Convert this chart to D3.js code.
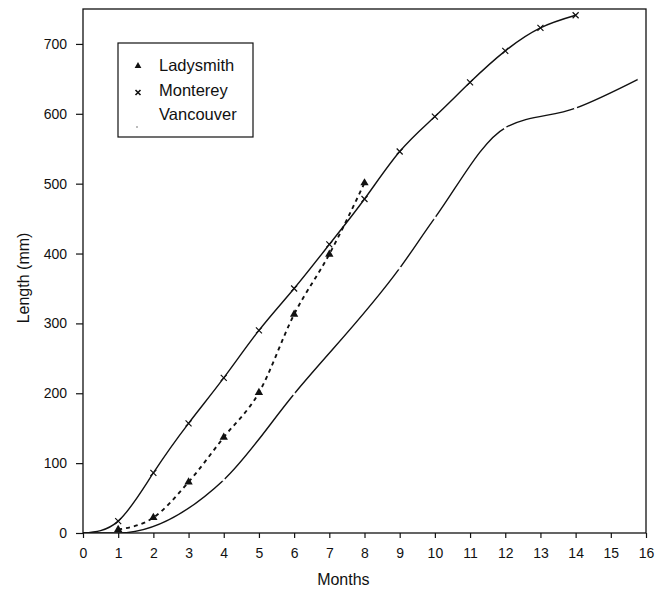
<!DOCTYPE html>
<html>
<head>
<meta charset="utf-8">
<script src="https://cdn.jsdelivr.net/npm/d3@7"></script>
<style>
  body { margin: 0; background: #fff; }
  svg { font-family: 'Liberation Sans', Arial, sans-serif; }
</style>
</head>
<body>
<svg></svg>
<script>
var ladysmithMonths = [1, 2, 3, 4, 5, 6, 7, 8];
var ladysmithLength = [5, 22, 73, 137, 201, 313, 399, 501];

var montereyMonths = [0, 1, 2, 3, 4, 5, 6, 7, 8, 9, 10, 11, 12, 13, 14];
var montereyLength = [0, 17, 86, 157, 222, 290, 350, 413, 478, 546, 596, 645, 690, 723, 741];

var vancouverMonths = [0, 1, 4, 6, 9, 10, 12, 14, 15.8];
var vancouverLength = [0, 0, 76, 199, 379, 451, 580, 608, 650];

var xTicks = [0, 1, 2, 3, 4, 5, 6, 7, 8, 9, 10, 11, 12, 13, 14, 15, 16];
var yTicks = [0, 100, 200, 300, 400, 500, 600, 700];
var seriesNames = ['Ladysmith', 'Monterey', 'Vancouver'];

var svgWidth = 665;
var svgHeight = 589;

var svgPadding = {
  top: 9,
  right: 19,
  bottom: 56,
  left: 83
};

var plotAreaWidth = svgWidth - svgPadding.left - svgPadding.right;
var plotAreaHeight = svgHeight - svgPadding.top - svgPadding.bottom;

var svg = d3.select('svg').attr('width', svgWidth).attr('height', svgHeight);

var xScale = d3.scaleLinear().domain([0, 16]).range([0, plotAreaWidth]);
var yScale = d3.scaleLinear().domain([0, 750]).range([plotAreaHeight, 0]);

var plot = svg.append('g')
  .attr('transform', 'translate(' + svgPadding.left + ',' + svgPadding.top + ')');

plot.append('clipPath').attr('id', 'plotClip')
  .append('rect')
  .attr('width', plotAreaWidth)
  .attr('height', plotAreaHeight);

function toPoints(months, values) {
  return months.map(function(m, i) { return { month: m, length: values[i] }; });
}

var ladysmith = toPoints(ladysmithMonths, ladysmithLength);
var monterey = toPoints(montereyMonths, montereyLength);
var vancouver = toPoints(vancouverMonths, vancouverLength);

function lineFor(curve) {
  return d3.line()
    .x(function(d) { return xScale(d.month); })
    .y(function(d) { return yScale(d.length); })
    .curve(curve);
}

var lines = plot.append('g').attr('clip-path', 'url(#plotClip)');

lines.append('path')
  .datum(monterey)
  .attr('d', lineFor(d3.curveNatural))
  .attr('fill', 'none')
  .attr('stroke', '#111')
  .attr('stroke-width', 1.4);

lines.append('path')
  .datum(vancouver)
  .attr('d', lineFor(d3.curveMonotoneX))
  .attr('fill', 'none')
  .attr('stroke', '#111')
  .attr('stroke-width', 1.4);

lines.append('path')
  .datum(ladysmith)
  .attr('d', lineFor(d3.curveMonotoneX))
  .attr('fill', 'none')
  .attr('stroke', '#111')
  .attr('stroke-width', 1.9)
  .attr('stroke-dasharray', '4,4');

// vancouver points only show as small breaks in the line
plot.selectAll('.vancouverPoint')
  .data(vancouver.filter(function(d) { return d.length > 0; }))
  .enter()
  .append('circle')
  .classed('vancouverPoint', true)
  .attr('cx', function(d) { return xScale(d.month); })
  .attr('cy', function(d) { return yScale(d.length); })
  .attr('r', 1.6)
  .attr('fill', '#fff');

var crossPath = 'M-3,-3L3,3M-3,3L3,-3';

plot.selectAll('.montereyPoint')
  .data(monterey.filter(function(d) { return d.month > 0; }))
  .enter()
  .append('path')
  .classed('montereyPoint', true)
  .attr('d', crossPath)
  .attr('transform', function(d) { return 'translate(' + xScale(d.month) + ',' + yScale(d.length) + ')'; })
  .attr('stroke', '#111')
  .attr('stroke-width', 1.2);

var triangle = d3.symbol().type(d3.symbolTriangle).size(30);

plot.selectAll('.ladysmithPoint')
  .data(ladysmith)
  .enter()
  .append('path')
  .classed('ladysmithPoint', true)
  .attr('d', triangle)
  .attr('transform', function(d) { return 'translate(' + xScale(d.month) + ',' + yScale(d.length) + ')'; })
  .attr('fill', '#111');

// frame
plot.append('rect')
  .attr('width', plotAreaWidth)
  .attr('height', plotAreaHeight)
  .attr('fill', 'none')
  .attr('stroke', '#111')
  .attr('stroke-width', 1.3);

var xAxis = plot.append('g')
  .attr('transform', 'translate(0,' + plotAreaHeight + ')')
  .call(d3.axisBottom(xScale).tickValues(xTicks).tickFormat(d3.format('d')).tickSize(5).tickPadding(10));

var yAxis = plot.append('g')
  .call(d3.axisLeft(yScale).tickValues(yTicks).tickSize(7).tickPadding(9));

[xAxis, yAxis].forEach(function(axis) {
  axis.select('.domain').remove();
  axis.selectAll('line').attr('stroke', '#111').attr('stroke-width', 1.2);
  axis.selectAll('text')
    .attr('fill', '#111')
    .style('font-size', '14px')
    .style('font-family', "'Liberation Sans', Arial, sans-serif");
});

svg.append('text')
  .text('Months')
  .attr('text-anchor', 'middle')
  .attr('x', svgPadding.left + xScale(7.4))
  .attr('y', 585)
  .attr('fill', '#111')
  .style('font-size', '16px');

svg.append('text')
  .text('Length (mm)')
  .attr('text-anchor', 'middle')
  .attr('transform', 'translate(29,' + (svgPadding.top + yScale(365)) + ') rotate(-90)')
  .attr('fill', '#111')
  .style('font-size', '16px');

// legend
var legend = svg.append('g').attr('transform', 'translate(118,43)');

legend.append('rect')
  .attr('width', 135)
  .attr('height', 94)
  .attr('fill', '#fff')
  .attr('stroke', '#111')
  .attr('stroke-width', 1.2);

var legendRows = legend.selectAll('.legendRow')
  .data(seriesNames)
  .enter()
  .append('g')
  .classed('legendRow', true)
  .attr('transform', function(d, i) { return 'translate(0,' + (22 + i * 24.5) + ')'; });

legendRows.append('text')
  .text(function(d) { return d; })
  .attr('x', 41)
  .attr('y', 6)
  .attr('fill', '#111')
  .style('font-size', '16.5px');

legendRows.filter(function(d) { return d === 'Ladysmith'; })
  .append('path')
  .attr('d', d3.symbol().type(d3.symbolTriangle).size(20))
  .attr('transform', 'translate(20,1)')
  .attr('fill', '#111');

legendRows.filter(function(d) { return d === 'Monterey'; })
  .append('path')
  .attr('d', 'M-2.5,-2.5L2.5,2.5M-2.5,2.5L2.5,-2.5')
  .attr('transform', 'translate(20,3)')
  .attr('stroke', '#111')
  .attr('stroke-width', 1.6);

legendRows.filter(function(d) { return d === 'Vancouver'; })
  .append('circle')
  .attr('cx', 19)
  .attr('cy', 13)
  .attr('r', 0.8)
  .attr('fill', '#666');
</script>
</body>
</html>
